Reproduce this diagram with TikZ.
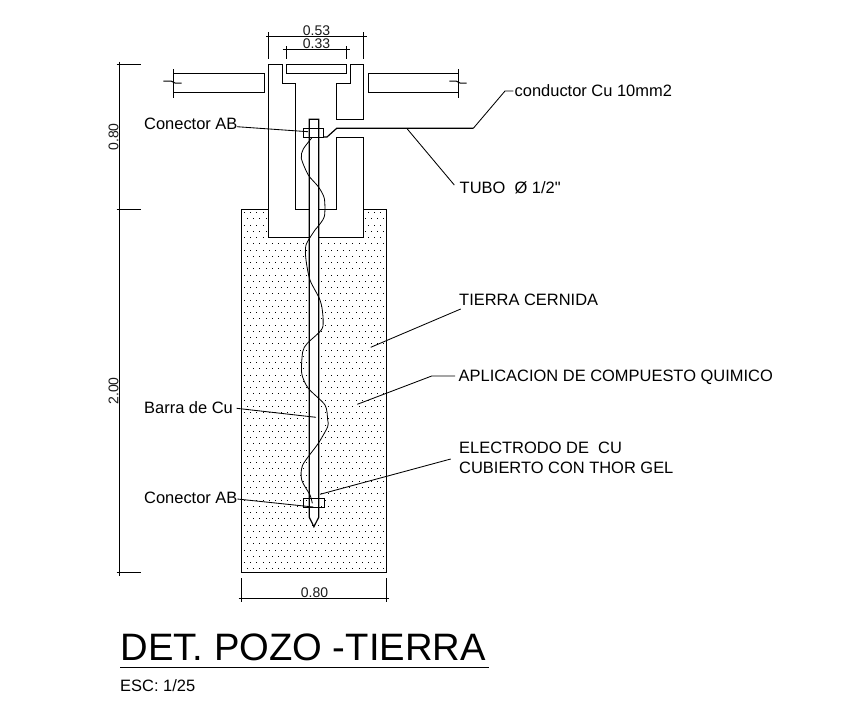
\documentclass[tikz,border=0pt]{standalone}
\usepackage{fontspec}
\setmainfont{Liberation Sans}
\newfontfamily\plainquote{Liberation Sans}
\tikzset{
  heavy/.style={line width=1.2pt,black},
  thin line/.style={line width=1pt,black},
  leader/.style={line width=0.85pt,black},
  lbl/.style={anchor=base west,inner sep=0pt,font=\fontsize{16.45}{18}\selectfont,text=black},
  dimtxt/.style={inner sep=0pt,font=\fontsize{14}{14}\selectfont,text=black!90},
}
\begin{document}
\begin{tikzpicture}[x=1pt,y=-1pt]
\useasboundingbox (0,0) rectangle (862,721);
% ground stipple
\foreach \r in {0,...,57}{
  \pgfmathsetmacro{\yy}{212+\r*6.25}
  \pgfmathsetmacro{\off}{mod(\r,2)*3}
  \foreach \c in {0,...,22}{
    \pgfmathsetmacro{\xx}{244+\c*6.2+\off}
    \ifdim\xx pt<386pt\relax
    \fill[black] (\xx,\yy) rectangle ++(0.9,0.9);
    \fi
  }
}
\draw[heavy] (241.3,209.3) rectangle (386.7,572.3);
% chamber
\fill[white] (268.3,64.3) rectangle (363.7,237.3);
\draw[heavy] (268.3,64.3) -- (282.3,64.3) -- (282.3,83.3) -- (295.3,83.3) -- (295.3,209.3)
  -- (336.3,209.3) -- (336.3,137.3) -- (363.7,137.3) -- (363.7,237.3) -- (268.3,237.3) -- cycle;
\draw[heavy] (363.7,64.3) -- (350.3,64.3) -- (350.3,83.3) -- (336.3,83.3) -- (336.3,119.3) -- (363.7,119.3) -- cycle;
% lid
\draw[heavy] (286.7,64.3) rectangle (346.3,73.7);
% slabs
\draw[heavy] (264.7,73.7) -- (173.3,73.7) (173.3,92.7) -- (264.7,92.7) -- (264.7,73.7);
\draw[heavy] (368.3,73.7) -- (458.3,73.7) (458.3,92.7) -- (368.3,92.7) -- (368.3,73.7);
\draw[thin line] (173.3,69) -- (173.3,97.7);
\draw[thin line] (458.3,69) -- (458.3,97.7);
\draw[thin line] (163.3,81) -- (171,81) -- (175,83) -- (181.7,83);
\draw[thin line] (449.3,81) -- (456,81) -- (460,83) -- (466.7,83);
% rod
\fill[white] (309.3,119.3) -- (318.7,119.3) -- (318.7,517.3) -- (313.9,526.7) -- (309.3,517.3) -- cycle;
\draw[heavy] (309.3,119.3) -- (318.7,119.3) -- (318.7,517.3) -- (313.9,526.7) -- (309.3,517.3) -- cycle;
% connectors AB
\draw[thin line] (303.3,128.3) rectangle (323.7,137.7);
\draw[thin line] (303.3,498.3) rectangle (324,507.3);
% conductor
\coordinate (condEnd) at (473.3,128.3);
\draw[heavy] (323.7,137) -- (327,137) -- (336.7,128.3) -- (condEnd);
% bare wire
\draw[line width=0.8pt,black] plot[smooth,tension=0.45] coordinates {
  (311.7,138) (303.3,149) (301.3,158.3) (308.3,175) (318.3,186.7) (324.3,198.3)
  (324.3,216.7) (316.7,228) (315,230) (306,245) (306,260) (310,280) (319.3,298.3) (322.3,310)
  (322.3,328.3) (307.3,343.3) (302.7,351.7) (301.7,373.3) (308.3,388.3) (325,405)
  (327.7,420) (327.7,426.7) (318.3,443.3) (302.7,465) (301.7,480) (310,495) (312.3,503.3)};
% dimensions top
\coordinate (d1a) at (268.3,36); \coordinate (d1b) at (363.7,36);
\coordinate (d2a) at (286.7,49); \coordinate (d2b) at (346.3,49);
\draw[thin line] (266,36) -- (367.3,36);
\draw[thin line] (d1a) ++(0,-4) -- (268.3,59) (d1b) ++(0,-4) -- (363.7,59);
\draw[thin line] (282.7,49) -- (350.3,49);
\draw[thin line] (d2a) ++(0,-3) -- (286.7,59) (d2b) ++(0,-3) -- (346.3,59);
\node[dimtxt] (t053) at (316.5,31) {0.53};
\node[dimtxt] (t033) at (316.5,44) {0.33};
% dimensions left
\draw[thin line] (119.3,61.7) -- (119.3,576);
\draw[thin line] (116.7,64.7) -- (140.7,64.7);
\draw[thin line] (116.7,209.3) -- (140.7,209.3);
\draw[thin line] (116.7,572.3) -- (140.7,572.3);
\node[dimtxt,rotate=90] (t080a) at (113.5,137) {0.80};
\node[dimtxt,rotate=90] (t200) at (113.5,391) {2.00};
% dimension bottom
\draw[thin line] (238.7,598.3) -- (389.3,598.3);
\draw[thin line] (241.7,578.3) -- (241.7,601.7);
\draw[thin line] (386.3,578.3) -- (386.3,601.7);
\node[dimtxt] (t080b) at (314.5,593) {0.80};
% labels
\node[lbl] (conA) at (144,129) {Conector AB};
\node[lbl] (conB) at (144,503) {Conector AB};
\node[lbl] (barra) at (144,413) {Barra de Cu};
\node[lbl] (cond) at (514.5,96) {conductor Cu 10mm2};
\node[lbl] (tubo) at (459.5,193) {TUBO\ \ Ø 1/2{\plainquote "}};
\node[lbl] (tierra) at (459,305) {TIERRA CERNIDA};
\node[lbl] (apli) at (458.5,381) {APLICACION DE COMPUESTO QUIMICO};
\node[lbl] (elec) at (459,453) {ELECTRODO DE\ \ CU};
\node[lbl] (cubi) at (459,473) {CUBIERTO CON THOR GEL};
% leaders
\coordinate (conAl) at (237,126.7); \coordinate (conAe) at (308,131.7);
\draw[leader] (conAl) -- (conAe);
\coordinate (conBl) at (237.3,499); \coordinate (conBe) at (313.3,507);
\draw[leader] (conBl) -- (conBe);
\coordinate (barl) at (236.7,408.3); \coordinate (bare) at (316,417.3);
\draw[leader] (barl) -- (bare);
\coordinate (tubA) at (407.3,129); \coordinate (tubB) at (454.3,185);
\draw[leader] (tubA) -- (tubB);
\coordinate (cA) at (505,91); \coordinate (cB) at (513.3,91);
\draw[leader] (condEnd) -- (cA) -- (cB);
\coordinate (tA) at (460.7,309); \coordinate (tB) at (370.7,347.3);
\draw[leader] (tA) -- (tB);
\coordinate (aA) at (455,376); \coordinate (aB) at (431.7,376); \coordinate (aC) at (357.3,404.3);
\draw[leader] (aA) -- (aB) -- (aC);
\coordinate (eA) at (450.7,459); \coordinate (eB) at (320,494.3);
\draw[leader] (eA) -- (eB);
% title
\node[lbl,font=\fontsize{38.2}{40}\selectfont] (title) at (120.5,660.5) {DET. POZO -TIERRA};
\draw[heavy] (120,667.3) -- (489,667.3);
\node[lbl] (esc) at (120,691.5) {ESC: 1/25};
\end{tikzpicture}
\end{document}
